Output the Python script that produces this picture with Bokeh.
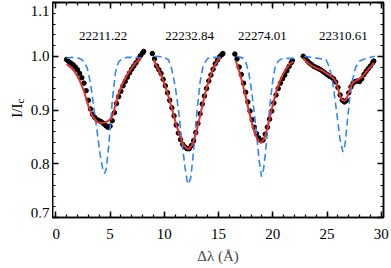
from bokeh.plotting import figure
from bokeh.layouts import row
from bokeh.models import LinearAxis, SingleIntervalTicker, Range1d, CustomJSTickFormatter
from bokeh.core.properties import value
from bokeh.embed import file_html
from bokeh.resources import INLINE
import math

# ---------------- data ----------------
line_names = ["22211.22", "22232.84", "22274.01", "22310.61"]
line_centers = [4.37, 12.33, 19.04, 26.5]
label_level = [1.037, 1.037, 1.037, 1.037]

y_tick_values = [0.7, 0.8, 0.9, 1.0, 1.1]
y_tick_labels = ["0.7", "0.8", "0.9", "1.0", "1.1"]
y_title_main = "I/I"
y_title_sub = "c"
x_title = "Δλ (Å)"

# observed spectrum (black dots), four windows
obs_x1 = [1.0, 1.2, 1.4, 1.6, 1.8, 2.0, 2.2, 2.4, 2.6, 2.8, 3.0, 3.2, 3.4, 3.6, 3.8, 4.0, 4.2, 4.4, 4.6,
          4.8, 5.0, 5.2, 5.4, 5.6, 5.8, 6.0, 6.2, 6.4, 6.6, 6.8, 7.0, 7.2, 7.4, 7.6, 7.8, 8.0, 8.1]
obs_y1 = [0.994, 0.990, 0.987, 0.984, 0.980, 0.975, 0.968, 0.960, 0.950, 0.936, 0.918, 0.902, 0.892,
          0.886, 0.882, 0.880, 0.878, 0.875, 0.871, 0.868, 0.870, 0.880, 0.895, 0.912, 0.925, 0.935,
          0.945, 0.953, 0.961, 0.969, 0.976, 0.982, 0.988, 0.995, 1.001, 1.006, 1.009]
obs_x2 = [8.9, 9.1, 9.3, 9.5, 9.7, 9.9, 10.1, 10.3, 10.5, 10.7, 10.9, 11.1, 11.3, 11.5, 11.7, 11.9,
          12.1, 12.3, 12.5, 12.7, 12.9, 13.1, 13.3, 13.5, 13.7, 13.9, 14.1, 14.3, 14.5, 14.7, 14.9,
          15.1, 15.3, 15.4]
obs_y2 = [1.005, 0.995, 0.982, 0.975, 0.968, 0.957, 0.945, 0.932, 0.918, 0.904, 0.889, 0.872, 0.857,
          0.845, 0.836, 0.831, 0.828, 0.828, 0.834, 0.843, 0.858, 0.875, 0.893, 0.911, 0.926, 0.940,
          0.954, 0.965, 0.976, 0.986, 0.993, 0.999, 1.003, 1.005]
obs_x3 = [16.5, 16.7, 16.9, 17.1, 17.3, 17.5, 17.7, 17.9, 18.1, 18.3, 18.5, 18.7, 18.9, 19.1, 19.3,
          19.5, 19.7, 19.9, 20.1, 20.3, 20.5, 20.7, 20.9, 21.1, 21.3, 21.5, 21.7, 21.8]
obs_y3 = [1.004, 0.995, 0.980, 0.966, 0.950, 0.933, 0.915, 0.898, 0.882, 0.868, 0.856, 0.848, 0.843,
          0.844, 0.855, 0.868, 0.883, 0.898, 0.913, 0.928, 0.940, 0.950, 0.958, 0.965, 0.973, 0.981,
          0.988, 0.992]
obs_x4 = [22.8, 23.0, 23.2, 23.4, 23.6, 23.8, 24.0, 24.2, 24.4, 24.6, 24.8, 25.0, 25.2, 25.4, 25.6,
          25.8, 26.0, 26.2, 26.4, 26.6, 26.8, 27.0, 27.2, 27.4, 27.6, 27.8, 28.0, 28.2, 28.4, 28.6,
          28.8, 29.0, 29.2, 29.3]
obs_y4 = [1.000, 0.996, 0.991, 0.987, 0.984, 0.981, 0.979, 0.977, 0.975, 0.972, 0.969, 0.966, 0.963,
          0.961, 0.958, 0.952, 0.942, 0.928, 0.918, 0.915, 0.918, 0.932, 0.943, 0.950, 0.953, 0.954,
          0.953, 0.958, 0.966, 0.972, 0.977, 0.982, 0.988, 0.991]

# fitted profile (red)
fit_x1 = [1.0, 1.4, 1.8, 2.2, 2.6, 3.0, 3.3, 3.6, 3.9, 4.2, 4.5, 4.8, 5.1, 5.3, 5.5, 5.7, 6.0, 6.3, 6.6, 7.0, 7.4, 7.9]
fit_y1 = [0.985, 0.979, 0.970, 0.955, 0.935, 0.908, 0.892, 0.882, 0.877, 0.876, 0.877, 0.879, 0.884,
          0.893, 0.910, 0.925, 0.942, 0.955, 0.966, 0.978, 0.989, 0.998]
fit_x2 = [9.0, 9.4, 9.8, 10.2, 10.6, 11.0, 11.4, 11.8, 12.1, 12.3, 12.6, 12.9, 13.2, 13.5, 13.8, 14.1, 14.4, 14.7, 15.0, 15.2]
fit_y2 = [0.994, 0.978, 0.960, 0.938, 0.910, 0.880, 0.853, 0.834, 0.828, 0.828, 0.836, 0.855, 0.880,
          0.908, 0.933, 0.955, 0.972, 0.985, 0.994, 0.998]
fit_x3 = [16.6, 16.9, 17.2, 17.5, 17.8, 18.1, 18.4, 18.7, 18.95, 19.2, 19.5, 19.8, 20.1, 20.4, 20.7, 21.0, 21.3, 21.6, 21.9]
fit_y3 = [0.991, 0.972, 0.950, 0.925, 0.898, 0.873, 0.853, 0.842, 0.839, 0.846, 0.866, 0.892, 0.918,
          0.940, 0.956, 0.969, 0.979, 0.986, 0.990]
fit_x4 = [22.8, 23.1, 23.4, 23.7, 24.0, 24.3, 24.6, 24.9, 25.2, 25.5, 25.8, 26.0, 26.2, 26.4, 26.6,
          26.8, 27.0, 27.2, 27.4, 27.7, 28.0, 28.3, 28.6, 28.9, 29.1, 29.3]
fit_y4 = [0.997, 0.990, 0.985, 0.981, 0.978, 0.976, 0.973, 0.969, 0.965, 0.961, 0.953, 0.940, 0.926,
          0.919, 0.917, 0.920, 0.933, 0.945, 0.951, 0.955, 0.958, 0.963, 0.971, 0.978, 0.982, 0.988]

# model profile (blue dashed)
mod_x1 = [1.0, 1.5, 2.0, 2.3, 2.6, 2.9, 3.2, 3.5, 3.8, 4.1, 4.35, 4.5, 4.65, 4.9, 5.2, 5.5, 5.8, 6.2, 6.6, 7.2, 7.9]
mod_y1 = [0.996, 0.998, 0.997, 0.995, 0.990, 0.978, 0.950, 0.905, 0.862, 0.815, 0.788, 0.782, 0.790,
          0.838, 0.915, 0.970, 0.990, 0.996, 0.998, 0.998, 0.997]
mod_x2 = [9.1, 9.7, 10.1, 10.4, 10.7, 11.0, 11.3, 11.6, 11.9, 12.1, 12.25, 12.45, 12.7, 13.0, 13.3, 13.6, 14.0, 14.5, 15.2]
mod_y2 = [1.000, 0.999, 0.997, 0.993, 0.975, 0.945, 0.902, 0.845, 0.795, 0.768, 0.762, 0.775, 0.824,
          0.895, 0.952, 0.984, 0.996, 0.998, 0.998]
mod_x3 = [16.7, 17.2, 17.5, 17.8, 18.05, 18.3, 18.5, 18.75, 18.95, 19.15, 19.35, 19.55, 19.75, 20.0, 20.2, 20.5, 20.8, 21.4, 21.9]
mod_y3 = [1.000, 0.997, 0.990, 0.968, 0.935, 0.893, 0.855, 0.805, 0.776, 0.790, 0.826, 0.870, 0.912,
          0.955, 0.979, 0.991, 0.995, 0.996, 0.996]
mod_x4 = [22.9, 23.5, 24.2, 24.9, 25.2, 25.45, 25.7, 25.95, 26.2, 26.45, 26.65, 26.85, 27.05, 27.3, 27.6, 27.9, 28.3, 28.8, 29.4]
mod_y4 = [1.000, 0.998, 0.996, 0.994, 0.980, 0.960, 0.925, 0.885, 0.845, 0.822, 0.835, 0.875, 0.915,
          0.952, 0.977, 0.990, 0.994, 0.997, 1.000]

obs = [(obs_x1, obs_y1), (obs_x2, obs_y2), (obs_x3, obs_y3), (obs_x4, obs_y4)]
fits = [(fit_x1, fit_y1), (fit_x2, fit_y2), (fit_x3, fit_y3), (fit_x4, fit_y4)]
mods = [(mod_x1, mod_y1), (mod_x2, mod_y2), (mod_x3, mod_y3), (mod_x4, mod_y4)]

# ---------------- layout constants ----------------
SERIF = "Liberation Serif"
H = 268
TOP = 2
BOTTOM = 51
LEFT_W = 52
MAIN_W = 339

yr = Range1d(0.7, 1.1)

# ---------------- main plot ----------------
p = figure(width=MAIN_W, height=H, output_backend="svg", toolbar_location=None,
           x_range=Range1d(-0.3, 30.2), y_range=yr,
           min_border_left=0, min_border_right=8, min_border_top=TOP, min_border_bottom=BOTTOM)
p.background_fill_color = "white"
p.border_fill_color = "white"
p.outline_line_color = "black"
p.outline_line_width = 1.5
p.xgrid.visible = False
p.ygrid.visible = False

blank = CustomJSTickFormatter(code="return '';")

def style_axis(ax, show_labels):
    ax.axis_line_color = "black"
    ax.axis_line_width = 1.5
    ax.major_tick_line_color = "black"
    ax.major_tick_line_width = 1.5
    ax.minor_tick_line_color = "black"
    ax.minor_tick_line_width = 1.2
    ax.major_tick_in = 6
    ax.major_tick_out = 0
    ax.minor_tick_in = 3
    ax.minor_tick_out = 0
    ax.major_label_text_font = SERIF
    ax.major_label_text_color = "black"
    if show_labels:
        ax.major_label_text_font_size = "15px"
    else:
        ax.major_label_text_font_size = "0px"
        ax.major_label_standoff = 0
        ax.formatter = blank

p.xaxis.ticker = SingleIntervalTicker(interval=5, num_minor_ticks=5)
p.yaxis.ticker = SingleIntervalTicker(interval=0.1, num_minor_ticks=5)
style_axis(p.xaxis[0], True)
style_axis(p.yaxis[0], False)
p.xaxis.major_label_standoff = 11
p.xaxis.axis_label = x_title
p.xaxis.axis_label_text_font = SERIF
p.xaxis.axis_label_text_font_style = "normal"
p.xaxis.axis_label_text_font_size = "15px"
p.xaxis.axis_label_standoff = 6

top_ax = LinearAxis(ticker=SingleIntervalTicker(interval=5, num_minor_ticks=5))
right_ax = LinearAxis(ticker=SingleIntervalTicker(interval=0.1, num_minor_ticks=5))
style_axis(top_ax, False)
style_axis(right_ax, False)
p.add_layout(top_ax, "above")
p.add_layout(right_ax, "right")

for (ox, oy) in obs:
    p.scatter(ox, oy, size=4.5, color="black")
for (mx, my) in mods:
    p.line(mx, my, line_color="#2f86ff", line_width=1.6, line_dash="7 4")
for (fx, fy) in fits:
    p.line(fx, fy, line_color="#e8302a", line_width=2)

p.text(x=line_centers, y=label_level, text=line_names,
       text_font=value(SERIF), text_font_size=value("13px"),
       text_align="center", text_baseline="middle", text_color="black")

# ---------------- left strip: y tick labels and y title ----------------
lf = figure(width=LEFT_W, height=H, output_backend="svg", toolbar_location=None,
            x_range=Range1d(0, LEFT_W), y_range=yr, x_axis_type=None, y_axis_type=None,
            min_border_left=0, min_border_right=0, min_border_top=TOP, min_border_bottom=BOTTOM)
lf.outline_line_color = None
lf.background_fill_color = "white"
lf.border_fill_color = "white"
lf.xgrid.visible = False
lf.ygrid.visible = False

# end labels sit inside the frame height, as in the original
label_shift = [-5, 0, 0, 0, 8]
lf.text(x=[LEFT_W - 3] * len(y_tick_values), y=y_tick_values, text=y_tick_labels,
        y_offset=label_shift,
        text_font=value(SERIF), text_font_size=value("15px"),
        text_align="right", text_baseline="middle", text_color="black")

title_anchor = 0.912
lf.text(x=[16], y=[title_anchor], text=[y_title_main], angle=math.pi / 2,
        text_font=value(SERIF), text_font_size=value("15px"),
        text_align="right", text_baseline="alphabetic", text_color="black")
lf.text(x=[19], y=[title_anchor], text=[y_title_sub], angle=math.pi / 2,
        text_font=value(SERIF), text_font_size=value("11px"),
        text_align="left", text_baseline="alphabetic", text_color="black")

layout = row(lf, p, spacing=0)
open("out.html", "w").write(file_html(layout, INLINE))
